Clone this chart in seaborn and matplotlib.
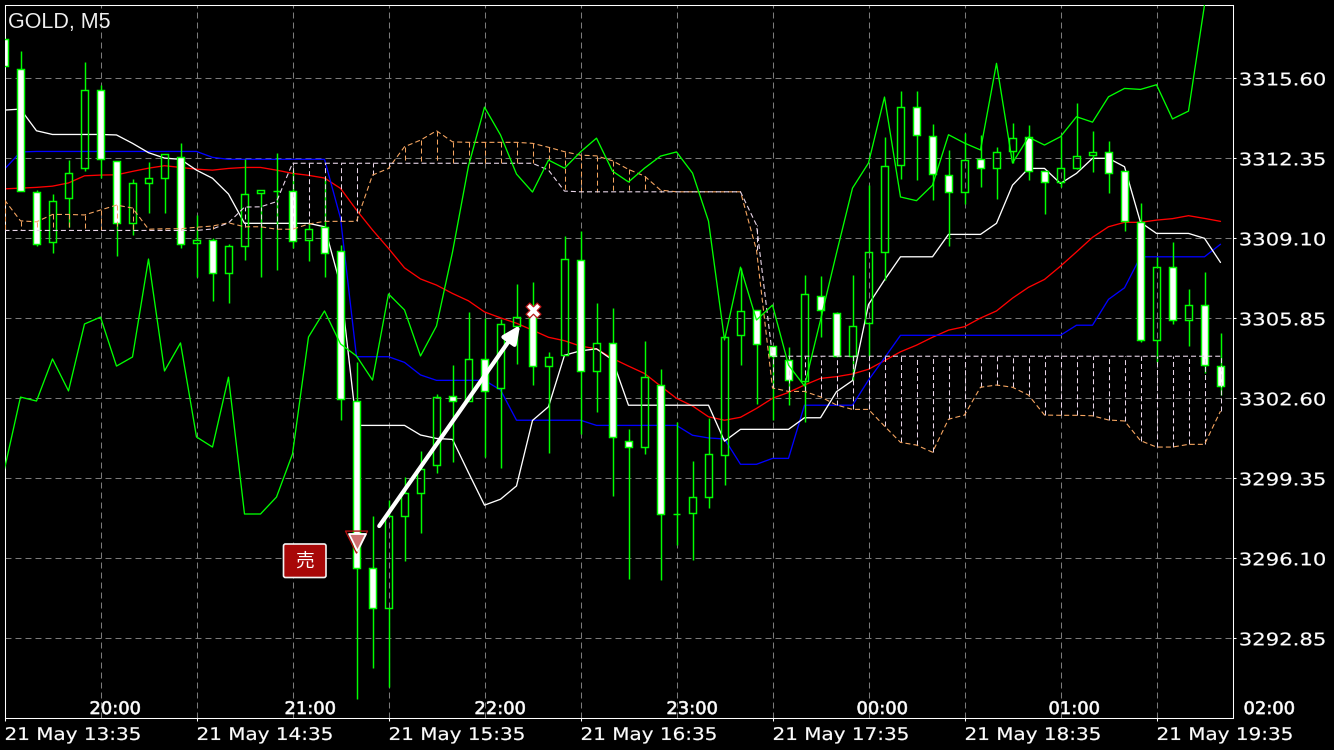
"""
Gold M5 candles with ichimoku cloud, moving average and one closed sell trade.
Output: out.png
"""
import pandas as pd
import matplotlib
matplotlib.use('Agg')
import matplotlib.pyplot as plt
import matplotlib.patheffects as pe
from matplotlib.patches import FancyBboxPatch
from matplotlib.transforms import Affine2D, IdentityTransform
import seaborn as sns

# Constants
OUT_PATH = 'out.png'
WIDTH, HEIGHT = 1334, 750

opens = [3317.20, 3315.98, 3310.98, 3308.95, 3310.74, 3311.95, 3315.12, 3312.24, 3309.72, 3311.35, 3311.55,
         3312.40, 3308.91, 3309.03, 3307.69, 3308.79, 3310.94, 3311.04, 3311.02, 3309.03, 3309.56, 3308.58,
         3302.49, 3295.71, 3294.08, 3297.82, 3298.75, 3299.89, 3302.69, 3302.49, 3304.20, 3303.02, 3305.54,
         3306.06, 3303.91, 3304.36, 3308.22, 3303.71, 3304.85, 3300.86, 3300.62, 3303.14, 3297.90, 3297.94,
         3298.59, 3300.30, 3305.17, 3306.19, 3304.74, 3304.16, 3303.30, 3306.75, 3306.06, 3304.32, 3305.66,
         3308.54, 3312.08, 3314.43, 3313.25, 3311.67, 3310.98, 3312.32, 3311.95, 3312.65, 3313.21, 3311.83,
         3311.39, 3311.95, 3312.48, 3312.61, 3311.83, 3309.76, 3304.97, 3307.93, 3305.78, 3306.39, 3303.91]
highs = [3317.20, 3316.71, 3311.06, 3310.90, 3312.28, 3316.26, 3315.33, 3312.24, 3311.51, 3312.20, 3312.52,
         3312.97, 3310.05, 3309.11, 3308.87, 3312.32, 3311.06, 3312.56, 3311.87, 3309.72, 3311.55, 3308.83,
         3304.07, 3297.82, 3298.47, 3299.40, 3300.46, 3302.77, 3303.95, 3306.11, 3305.86, 3305.82, 3307.24,
         3307.32, 3304.48, 3309.19, 3309.40, 3306.47, 3306.27, 3301.35, 3304.93, 3303.79, 3301.64, 3300.05,
         3301.80, 3305.13, 3307.89, 3306.19, 3304.74, 3304.68, 3307.61, 3307.57, 3306.11, 3307.61, 3311.26,
         3313.21, 3315.08, 3315.08, 3313.74, 3312.69, 3313.38, 3313.30, 3312.81, 3313.78, 3313.70, 3311.83,
         3313.25, 3314.60, 3313.46, 3313.05, 3311.83, 3310.53, 3308.34, 3308.95, 3307.04, 3307.73, 3305.25]
lows = [3316.10, 3311.02, 3308.77, 3308.50, 3309.56, 3311.83, 3311.55, 3308.38, 3309.23, 3310.13, 3310.13,
        3308.71, 3307.53, 3306.55, 3306.47, 3308.22, 3307.53, 3307.81, 3308.71, 3308.18, 3307.53, 3301.72,
        3290.38, 3291.64, 3290.87, 3295.99, 3297.13, 3299.58, 3300.01, 3302.49, 3300.21, 3299.77, 3303.99,
        3303.14, 3300.38, 3304.36, 3301.15, 3302.04, 3298.63, 3295.26, 3300.34, 3295.22, 3296.64, 3296.03,
        3298.14, 3299.08, 3303.95, 3302.37, 3301.72, 3302.33, 3301.64, 3305.09, 3304.32, 3303.34, 3304.32,
        3307.41, 3311.51, 3311.47, 3310.66, 3308.79, 3310.49, 3311.18, 3310.70, 3312.16, 3311.47, 3310.09,
        3311.18, 3311.91, 3311.79, 3310.94, 3309.40, 3304.89, 3304.07, 3305.62, 3304.74, 3303.63, 3302.73]
closes = [3316.10, 3311.02, 3308.85, 3310.61, 3311.75, 3315.12, 3312.32, 3309.72, 3311.35, 3311.55, 3312.52,
          3308.87, 3309.03, 3307.69, 3308.79, 3310.90, 3311.06, 3311.04, 3308.99, 3309.48, 3308.50, 3302.57,
          3295.71, 3294.08, 3297.82, 3298.75, 3299.73, 3302.65, 3302.49, 3304.20, 3302.90, 3305.62, 3305.90,
          3303.91, 3304.28, 3308.26, 3303.71, 3304.85, 3301.03, 3300.62, 3303.46, 3297.90, 3297.90, 3298.59,
          3300.34, 3305.09, 3306.15, 3304.81, 3304.32, 3303.34, 3306.84, 3306.19, 3304.32, 3305.54, 3308.54,
          3312.04, 3314.43, 3313.30, 3311.71, 3310.98, 3312.28, 3311.95, 3312.61, 3313.17, 3311.83, 3311.39,
          3311.95, 3312.44, 3312.61, 3311.75, 3309.80, 3304.97, 3307.93, 3305.78, 3306.39, 3303.95, 3303.10]

moving_average = [3311.11, 3311.14, 3311.17, 3311.22, 3311.35, 3311.64, 3311.67, 3311.68, 3311.82, 3311.95, 3312.05,
                  3311.98, 3311.91, 3311.87, 3311.94, 3311.98, 3311.98, 3311.87, 3311.74, 3311.66, 3311.55, 3311.13,
                  3310.25, 3309.44, 3308.69, 3307.90, 3307.45, 3307.20, 3306.86, 3306.56, 3306.11, 3305.87, 3305.65,
                  3305.37, 3305.08, 3304.94, 3304.72, 3304.61, 3304.22, 3303.91, 3303.61, 3303.10, 3302.60, 3302.29,
                  3301.85, 3301.71, 3301.83, 3302.19, 3302.60, 3302.84, 3303.14, 3303.41, 3303.48, 3303.59, 3303.78,
                  3304.13, 3304.49, 3304.76, 3305.08, 3305.37, 3305.51, 3305.86, 3306.15, 3306.67, 3307.11, 3307.43,
                  3307.97, 3308.55, 3309.14, 3309.57, 3309.75, 3309.75, 3309.84, 3309.90, 3310.02, 3309.91, 3309.79]
kijun = [3311.91, 3312.61, 3312.63, 3312.63, 3312.63, 3312.63, 3312.63, 3312.63, 3312.63, 3312.63, 3312.63,
         3312.63, 3312.63, 3312.39, 3312.31, 3312.31, 3312.31, 3312.31, 3312.31, 3312.31, 3312.31, 3309.92,
         3304.29, 3304.29, 3304.29, 3304.06, 3303.55, 3303.33, 3303.33, 3303.33, 3303.33, 3302.94, 3301.71,
         3301.71, 3301.71, 3301.71, 3301.71, 3301.50, 3301.50, 3301.50, 3301.50, 3301.50, 3301.50, 3301.10,
         3300.99, 3300.95, 3299.92, 3299.92, 3300.16, 3300.16, 3302.32, 3302.32, 3302.32, 3302.32, 3303.34,
         3304.24, 3305.16, 3305.16, 3305.16, 3305.16, 3305.16, 3305.16, 3305.16, 3305.16, 3305.16, 3305.16,
         3305.16, 3305.57, 3305.57, 3306.62, 3307.09, 3308.35, 3308.35, 3308.35, 3308.35, 3308.35, 3308.86]
tenkan = [3314.31, 3314.35, 3313.47, 3313.32, 3313.32, 3313.32, 3313.32, 3313.30, 3312.96, 3312.58, 3312.36,
          3312.31, 3311.87, 3311.54, 3310.90, 3309.71, 3309.71, 3309.71, 3309.71, 3309.71, 3309.57, 3307.20,
          3301.50, 3301.50, 3301.50, 3301.50, 3301.11, 3300.97, 3300.93, 3299.58, 3298.26, 3298.50, 3299.04,
          3301.70, 3302.26, 3304.35, 3304.53, 3304.61, 3304.16, 3302.32, 3302.32, 3302.32, 3302.32, 3302.32,
          3302.32, 3300.86, 3301.34, 3301.34, 3301.34, 3301.34, 3301.81, 3301.81, 3302.87, 3303.32, 3306.41,
          3307.41, 3308.35, 3308.35, 3308.35, 3309.26, 3309.26, 3309.26, 3309.71, 3311.26, 3311.94, 3311.94,
          3311.33, 3311.74, 3312.35, 3312.35, 3312.01, 3309.75, 3309.30, 3309.30, 3309.30, 3309.10, 3308.12]
chikou = [3299.73, 3302.65, 3302.49, 3304.20, 3302.90, 3305.62, 3305.90, 3303.91, 3304.28, 3308.26, 3303.71,
          3304.85, 3301.03, 3300.62, 3303.46, 3297.90, 3297.90, 3298.59, 3300.34, 3305.09, 3306.15, 3304.81,
          3304.32, 3303.34, 3306.84, 3306.19, 3304.32, 3305.54, 3308.54, 3312.04, 3314.43, 3313.30, 3311.71,
          3310.98, 3312.28, 3311.95, 3312.61, 3313.17, 3311.83, 3311.39, 3311.95, 3312.44, 3312.61, 3311.75,
          3309.80, 3304.97, 3307.93, 3305.78, 3306.39, 3303.95, 3303.10, 3305.78, 3308.50, 3311.14, 3312.16,
          3314.84, 3310.78, 3310.63, 3311.26, 3313.31, 3312.97, 3312.69, 3316.21, 3312.16, 3313.21, 3312.89,
          3313.23, 3314.04, 3313.82, 3314.85, 3315.19, 3315.15, 3315.34, 3313.95, 3314.27, 3318.58]
senkou_a = [3310.66, 3309.81, 3309.77, 3310.07, 3310.07, 3310.05, 3310.25, 3310.45, 3310.33, 3309.47, 3309.49,
            3309.49, 3309.55, 3309.60, 3309.73, 3309.57, 3309.57, 3309.47, 3309.47, 3309.68, 3309.79, 3309.79,
            3309.79, 3311.67, 3311.94, 3312.82, 3313.09, 3313.47, 3313.02, 3313.00, 3313.00, 3313.00, 3313.00,
            3312.96, 3312.80, 3312.62, 3312.48, 3312.45, 3312.25, 3311.90, 3311.63, 3311.06, 3310.99, 3310.99,
            3310.99, 3310.99, 3310.99, 3308.62, 3303.02, 3302.88, 3302.88, 3302.66, 3302.33, 3302.15, 3302.15,
            3301.47, 3300.81, 3300.70, 3300.41, 3301.75, 3301.92, 3303.05, 3303.14, 3303.05, 3302.73, 3301.92,
            3301.91, 3301.91, 3301.89, 3301.72, 3301.68, 3300.88, 3300.62, 3300.62, 3300.73, 3300.73, 3302.08]
senkou_b = [3309.42, 3309.42, 3309.42, 3309.42, 3309.42, 3309.42, 3309.42, 3309.42, 3309.42, 3309.42, 3309.42,
            3309.42, 3309.42, 3309.48, 3309.73, 3310.37, 3310.38, 3310.59, 3312.15, 3312.15, 3312.15, 3312.15,
            3312.15, 3312.15, 3312.15, 3312.15, 3312.15, 3312.15, 3312.15, 3312.15, 3312.15, 3312.15, 3312.15,
            3312.15, 3311.87, 3311.02, 3310.99, 3310.99, 3310.99, 3310.99, 3310.99, 3310.99, 3310.99, 3310.99,
            3310.99, 3310.99, 3310.99, 3309.64, 3304.31, 3304.31, 3304.31, 3304.31, 3304.31, 3304.31, 3304.31,
            3304.31, 3304.31, 3304.31, 3304.31, 3304.31, 3304.31, 3304.31, 3304.31, 3304.31, 3304.31, 3304.31,
            3304.31, 3304.31, 3304.31, 3304.31, 3304.31, 3304.31, 3304.31, 3304.31, 3304.31, 3304.31, 3304.31]

price_ticks = [3292.85, 3296.10, 3299.35, 3302.60, 3305.85, 3309.10, 3312.35, 3315.60]
price_labels = ['3292.85', '3296.10', '3299.35', '3302.60', '3305.85', '3309.10', '3312.35', '3315.60']
date_ticks = [0, 12, 24, 36, 48, 60, 72]
date_labels = ['21 May 13:35', '21 May 14:35', '21 May 15:35', '21 May 16:35',
               '21 May 17:35', '21 May 18:35', '21 May 19:35']
half_hour_ticks = [6, 18, 30, 42, 54, 66]
hour_positions = [5.31, 17.5, 29.37, 41.37, 53.25, 65.25, 77.44]
hour_labels = ['20:00', '21:00', '22:00', '23:00', '00:00', '01:00', '02:00']

# trade: entry marker, exit marker, and the arrow drawn between
entry_bar, entry_price = 22, 3296.76
exit_bar, exit_price = 33, 3306.19
arrow_start = (23.42, 3297.41)
arrow_end = (32.23, 3305.58)


class StretchX(pe.AbstractPathEffect):
    """Widens one text horizontally, the chart font has wide tracking. Stroke makes it a bit heavier"""

    def __init__(self, factor, stroke=0.0):
        super().__init__()
        self.factor = factor
        self.stroke = stroke

    def draw_path(self, renderer, gc, tpath, affine, rgbFace=None):
        gc0 = renderer.new_gc()
        gc0.copy_properties(gc)
        gc0.set_linewidth(self.stroke)
        gc0.set_foreground(rgbFace)
        renderer.draw_path(gc0, tpath, Affine2D().scale(self.factor, 1) + affine, rgbFace)
        gc0.restore()


sns.set_theme(style='dark', rc={
    'figure.facecolor': 'black',
    'axes.facecolor': 'black',
    'axes.edgecolor': 'white',
    'axes.linewidth': 0.75,
    'lines.scale_dashes': False,
    'text.color': 'white',
    'xtick.color': 'white',
    'ytick.color': 'white',
})
plt.rcParams['font.family'] = ['DejaVu Sans']

df = pd.DataFrame({
    'bar': range(len(closes)), 'open': opens, 'high': highs, 'low': lows, 'close': closes,
    'ma': moving_average, 'kijun': kijun, 'tenkan': tenkan,
    'senkou_a': senkou_a, 'senkou_b': senkou_b,
})
df['chikou'] = pd.Series(chikou)
df['top'] = df[['open', 'close']].max(axis=1)
df['bottom'] = df[['open', 'close']].min(axis=1)
df['bear'] = df['close'] < df['open']

fig = plt.figure(figsize=(WIDTH / 100, HEIGHT / 100), dpi=100)
ax = fig.add_axes([4.5 / WIDTH, 1 - 718.3 / HEIGHT, 1228 / WIDTH, 713.8 / HEIGHT])

#..grid
ax.set_axisbelow(True)
ax.set_xticks(date_ticks, date_labels, ha='left', fontsize=12.5)
ax.set_xticks(half_hour_ticks, minor=True)
ax.set_yticks(price_ticks, price_labels, fontsize=12.5)
ax.yaxis.tick_right()
ax.grid(True, which='both', color='#7a7a7a', linewidth=0.75, linestyle=(0, (4.3, 2.9)))
ax.tick_params(axis='x', which='major', length=2.5, width=0.75, pad=3, bottom=True)
ax.tick_params(axis='x', which='minor', length=0, bottom=False)
ax.tick_params(axis='y', length=2.5, width=0.75, pad=2, right=True)
for label in ax.get_xticklabels():
    label.set_path_effects([StretchX(1.15, 0.15)])
for label in ax.get_yticklabels():
    label.set_path_effects([StretchX(1.22, 0.15)])

#..indicators under the candles
line_kws = dict(ax=ax, estimator=None, sort=False, legend=False, linewidth=0.95, zorder=2)
sns.lineplot(data=df, x='bar', y='ma', color='#ff0000', **line_kws)
sns.lineplot(data=df, x='bar', y='kijun', color='#0000ff', **line_kws)
sns.lineplot(data=df, x='bar', y='tenkan', color='#ffffff', **line_kws)

#..candles
wick_kws = dict(colors='#00ff00', linewidth=1.05, zorder=3, snap=True)
ax.vlines(df['bar'], df['top'], df['high'], **wick_kws)
ax.vlines(df['bar'], df['low'], df['bottom'], **wick_kws)
ax.bar(df['bar'], df['top'] - df['bottom'], bottom=df['bottom'], width=0.47,
       color=['white' if bear else 'none' for bear in df['bear']],
       edgecolor='#00ff00', linewidth=1.05, zorder=3)

#..cloud on top of the candles
cloud_dash = (0, (3.6, 2.2))
hatch_colors = ['#f4a460' if a > b else '#e8d5e8' for a, b in zip(df['senkou_a'], df['senkou_b'])]
ax.vlines(df['bar'], df['senkou_a'], df['senkou_b'], colors=hatch_colors, linewidth=0.75,
          linestyles=[cloud_dash], zorder=4, snap=True)
sns.lineplot(data=df, x='bar', y='senkou_a', color='#f4a460', ax=ax, estimator=None, sort=False,
             legend=False, linewidth=0.8, linestyle=cloud_dash, zorder=4)
sns.lineplot(data=df, x='bar', y='senkou_b', color='#e8d5e8', ax=ax, estimator=None, sort=False,
             legend=False, linewidth=0.8, linestyle=cloud_dash, zorder=4)
sns.lineplot(data=df.dropna(subset=['chikou']), x='bar', y='chikou', color='#00ff00', ax=ax, estimator=None,
             sort=False, legend=False, linewidth=0.95, zorder=5)

#..trade marks
ax.scatter([entry_bar], [entry_price], marker='v', s=250, facecolor='none', edgecolor='#b01010',
           linewidth=1.0, zorder=6)
ax.scatter([entry_bar], [entry_price], marker='v', s=150, facecolor='#d07070', edgecolor='white',
           linewidth=1.3, zorder=6)
ax.scatter([exit_bar], [exit_price], marker='X', s=115, facecolor='white', edgecolor='#b81818',
           linewidth=0.9, zorder=6)
ax.annotate('', xy=arrow_end, xytext=arrow_start, zorder=7,
            arrowprops=dict(arrowstyle='-|>,head_length=0.75,head_width=0.35', color='white', lw=3,
                            shrinkA=0, shrinkB=0, mutation_scale=14))

#..limits, axis names are not shown on this chart
ax.set_xlim(0, 76.75)
ax.set_ylim(3289.60, 3318.60)
ax.set_xlabel('')
ax.set_ylabel('')
for spine in ax.spines.values():
    spine.set_visible(True)

#..texts over the axes
ax.text(0.24, 3318.78 - 22.5 * 0.040625, 'GOLD, M5', family='Liberation Sans', fontsize=15.5,
        color='#f0f0f0', ha='left', va='center')
hour_y = 3318.78 - 709 * 0.040625
for position, label in zip(hour_positions, hour_labels):
    ax.text(position, hour_y, label, fontsize=12.5, color='white', ha='left', va='center', clip_on=False,
            zorder=8, path_effects=[StretchX(1.03, 0.45)])

#..sell badge
fig.add_artist(FancyBboxPatch((283.5, HEIGHT - 577.5), 42.5, 33.5, boxstyle='round,pad=0,rounding_size=2',
                              facecolor='#a80808', edgecolor='#f4f4f4', linewidth=1.2,
                              transform=IdentityTransform(), zorder=9))
fig.text(304.8 / WIDTH, 1 - 561 / HEIGHT, '売', family=['Noto Sans CJK JP', 'DejaVu Sans'], fontsize=13.5,
         color='white', ha='center', va='center', zorder=10)

fig.savefig(OUT_PATH, dpi=100, facecolor='black')
